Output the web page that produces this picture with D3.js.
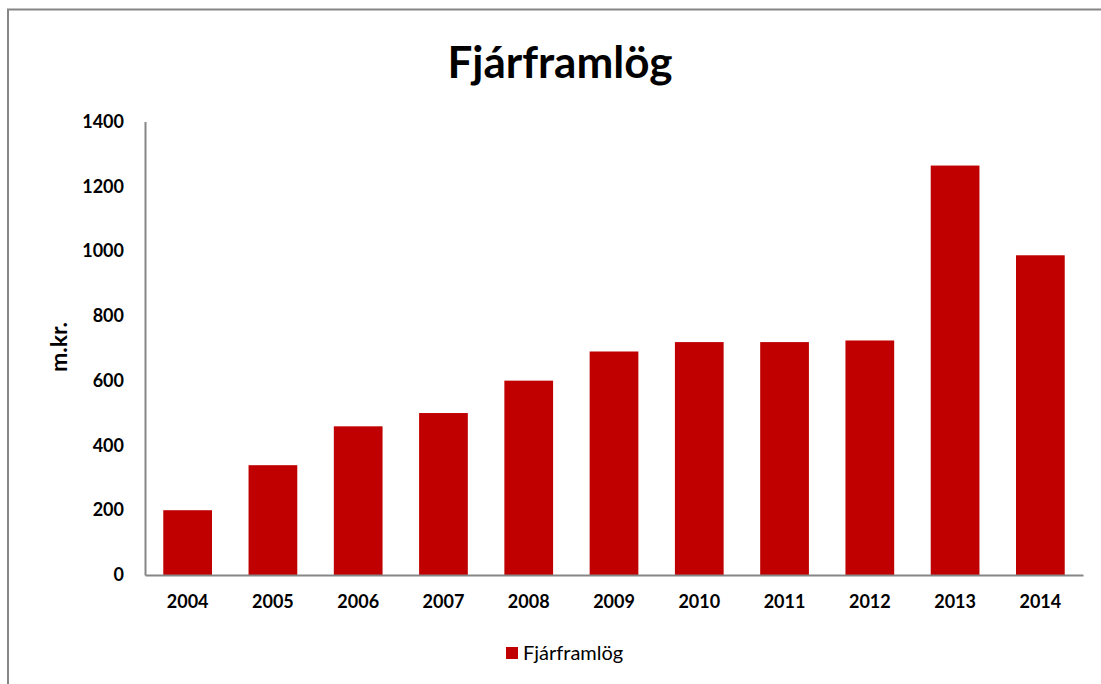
<!DOCTYPE html>
<html>
<head>
<meta charset="utf-8">
<script src="https://cdn.jsdelivr.net/npm/d3@7"></script>
<style>
  body { margin: 0; background: #fff; }
  svg { display: block; font-family: Lato, "Open Sans", sans-serif; }
</style>
</head>
<body>
<svg id="chart"></svg>
<script>
// chart data
var years = ["2004", "2005", "2006", "2007", "2008", "2009", "2010", "2011", "2012", "2013", "2014"];
var values = [200, 339, 459, 500, 600, 690, 719, 719, 724, 1264, 987];
var yTicks = [0, 200, 400, 600, 800, 1000, 1200, 1400];
var seriesName = "Fjárframlög";

var width = 1101, height = 684;
var svg = d3.select("#chart").attr("width", width).attr("height", height);

// outer chart frame (runs past right/bottom edge)
svg.append("rect")
  .attr("x", 8).attr("y", 9.5)
  .attr("width", 1200).attr("height", 800)
  .attr("fill", "none")
  .attr("stroke", "#868686")
  .attr("stroke-width", 2);

var plotLeft = 145, plotRight = 1083, plotTop = 121.5, plotBottom = 575;

var x = d3.scaleBand()
  .domain(years)
  .range([plotLeft, plotRight])
  .paddingInner(0.75 / 1.75)
  .paddingOuter(0.75 / 3.5);

var y = d3.scaleLinear()
  .domain([0, 1400])
  .range([plotBottom, plotTop]);

// bars
svg.append("g").selectAll("rect")
  .data(values)
  .enter().append("rect")
  .attr("x", function (d, i) { return x(years[i]); })
  .attr("y", function (d) { return y(d); })
  .attr("width", x.bandwidth())
  .attr("height", function (d) { return y(0) - y(d); })
  .attr("fill", "#c00000");

// y axis
var yAxis = svg.append("g")
  .attr("transform", "translate(" + plotLeft + ",0)")
  .call(d3.axisLeft(y).tickValues(yTicks).tickFormat(d3.format("d")).tickSize(0).tickPadding(21));
yAxis.select(".domain").attr("stroke", "#868686").attr("stroke-width", 2);
yAxis.selectAll("text")
  .attr("font-family", "Lato, sans-serif")
  .attr("font-size", 18).attr("font-weight", "bold").attr("fill", "#000");

// x axis
var xAxis = svg.append("g")
  .attr("transform", "translate(0," + plotBottom + ")")
  .call(d3.axisBottom(x).tickSize(0).tickPadding(20));
xAxis.select(".domain").attr("stroke", "#868686").attr("stroke-width", 2);
xAxis.selectAll("text")
  .attr("font-family", "Lato, sans-serif")
  .attr("font-size", 18).attr("font-weight", "bold").attr("fill", "#000");

// title
svg.append("text")
  .attr("x", 560).attr("y", 78)
  .attr("text-anchor", "middle")
  .attr("font-size", 44).attr("font-weight", "bold")
  .text(seriesName);

// y axis title
svg.append("text")
  .attr("transform", "translate(67,347) rotate(-90)")
  .attr("text-anchor", "middle")
  .attr("font-size", 23).attr("font-weight", "bold")
  .text("m.kr.");

// legend
var legend = svg.append("g").attr("transform", "translate(506,647)");
legend.append("rect").attr("width", 12).attr("height", 12).attr("fill", "#c00000");
legend.append("text")
  .attr("x", 17).attr("y", 13)
  .attr("font-size", 20)
  .attr("fill", "#000")
  .text(seriesName);
</script>
</body>
</html>
